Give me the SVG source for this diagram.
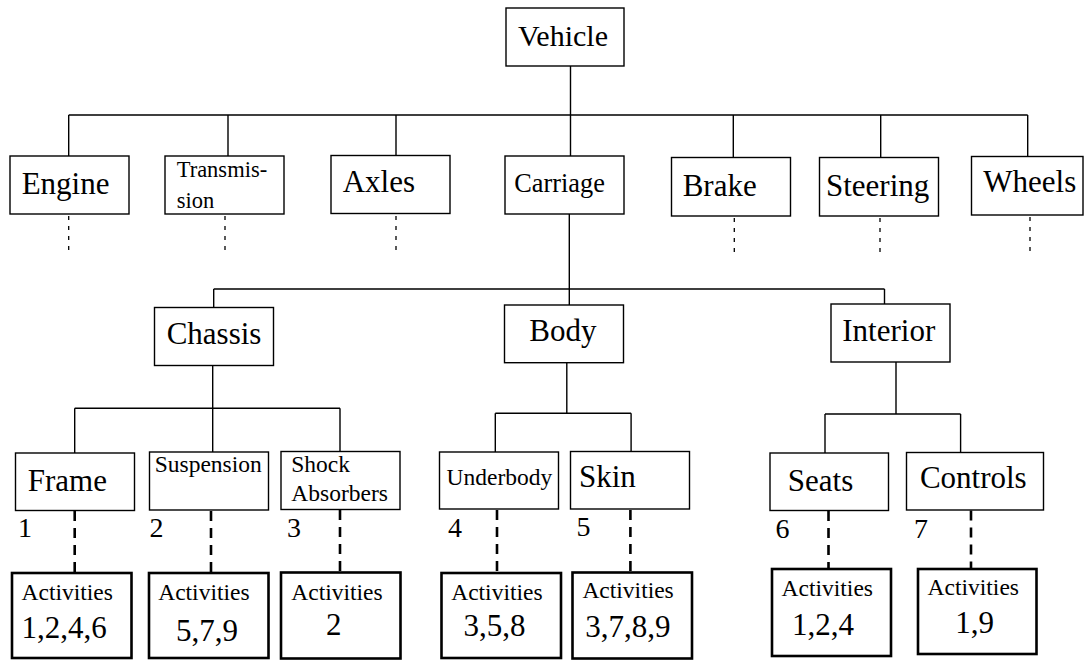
<svg xmlns="http://www.w3.org/2000/svg" width="1085" height="660" viewBox="0 0 1085 660">
<style>
.b{fill:#fff;stroke:#000;stroke-width:1.4}
.a{fill:#fff;stroke:#000;stroke-width:2.6}
text{font-family:'Liberation Serif','Times New Roman','DejaVu Serif',serif;fill:#000}
.L{font-size:31px}
.S{font-size:23.5px}
.N{font-size:28px}
.c{stroke:#000;stroke-width:1.4;fill:none}
.d{stroke:#000;stroke-width:1.3;stroke-dasharray:4 6;fill:none}
.D{stroke:#000;stroke-width:2.6;stroke-dasharray:10 7;fill:none}
</style>
<g id="connectors">
<path class="c" d="M570.5 66V156M68.7 115H1027.7M68.7 115V156M228 115V156M396 115V155.5M733.3 115V157.5M880.7 115V157.5M1027.7 115V156.5"/>
<path class="c" d="M569.3 214V305M213.7 289H884.5M213.7 289V307.5M884.5 289V304"/>
<path class="c" d="M212.7 365.5V452M74.7 408.3H340M74.7 408.3V453M340 408.3V451.5"/>
<path class="c" d="M566.8 362.7V413.3M495.3 413.3H631.1M495.3 413.3V452M631.1 413.3V451.5"/>
<path class="c" d="M896 362V414M825 414H960.6M825 414V453M960.6 414V452.5"/>
<path class="d" d="M68.7 216V254M225 216V256M396 216V255M734.3 218V257M880 218V257M1030 217V257"/>
<path class="D" d="M74.7 511V573M211 511V572.5M340 510V572.5M497 510V573M630.4 510V572.5M828.5 511V569M971 510.5V569"/>
</g>
<g font-family="Liberation Serif, serif">
<g id="vehicle"><rect class="b" x="506" y="8" width="118" height="58"/><text x="518" y="46" font-size="30">Vehicle</text></g>
<g id="engine"><rect class="b" x="10" y="156" width="119" height="58"/><text class="L" x="21.7" y="194">Engine</text></g>
<g id="transmission"><rect class="b" x="165" y="156" width="119" height="58"/><text x="176.7" y="177.3" font-size="22.5">Transmis-</text><text x="176.7" y="208" font-size="22.5">sion</text></g>
<g id="axles"><rect class="b" x="331" y="155.5" width="119" height="58"/><text class="L" x="342.7" y="192.3">Axles</text></g>
<g id="carriage"><rect class="b" x="505" y="156" width="119" height="58"/><text x="514.3" y="191.7" font-size="26.3">Carriage</text></g>
<g id="brake"><rect class="b" x="671.5" y="157.5" width="119" height="58.5"/><text class="L" x="682.7" y="195.7">Brake</text></g>
<g id="steering"><rect class="b" x="819.5" y="157.5" width="119" height="58.5"/><text class="L" x="826" y="195.7">Steering</text></g>
<g id="wheels"><rect class="b" x="971.5" y="156.5" width="111.5" height="58.5"/><text class="L" x="983.3" y="192.3">Wheels</text></g>
<g id="chassis"><rect class="b" x="154.5" y="307.5" width="119" height="58"/><text class="L" x="166.7" y="344">Chassis</text></g>
<g id="body"><rect class="b" x="504.5" y="305" width="119" height="57.7"/><text class="L" x="529.3" y="340.7">Body</text></g>
<g id="interior"><rect class="b" x="831" y="304" width="119" height="58"/><text class="L" x="842.3" y="341">Interior</text></g>
<g id="frame"><rect class="b" x="15.5" y="453" width="119" height="57.5"/><text class="L" x="27.8" y="490.7">Frame</text><text class="N" x="18" y="536.7">1</text></g>
<g id="suspension"><rect class="b" x="149.5" y="452" width="119" height="58"/><text class="S" x="154.7" y="472.3">Suspension</text><text class="N" x="149.5" y="536.7">2</text></g>
<g id="shock-absorbers"><rect class="b" x="281" y="451.5" width="119" height="58"/><text class="S" x="291.3" y="471.7">Shock</text><text class="S" x="291.3" y="500.7">Absorbers</text><text class="N" x="287" y="536.7">3</text></g>
<g id="underbody"><rect class="b" x="439.5" y="452" width="119" height="57"/><text class="S" x="446.6" y="485">Underbody</text><text class="N" x="448" y="536.7">4</text></g>
<g id="skin"><rect class="b" x="570.5" y="451.5" width="119" height="57.5"/><text class="L" x="578.9" y="487.3">Skin</text><text class="N" x="576.5" y="535.7">5</text></g>
<g id="seats"><rect class="b" x="770" y="453" width="118.5" height="57.5"/><text class="L" x="787.8" y="490.7">Seats</text><text class="N" x="775.5" y="538.3">6</text></g>
<g id="controls"><rect class="b" x="906.5" y="452.5" width="137" height="57.5"/><text class="L" x="919.9" y="488.3">Controls</text><text class="N" x="914" y="538.3">7</text></g>
<g id="act1"><rect class="a" x="12" y="573" width="119.5" height="85"/><text class="S" x="21.5" y="600">Activities</text><text class="L" x="21.5" y="638.3">1,2,4,6</text></g>
<g id="act2"><rect class="a" x="149" y="573" width="119.5" height="85"/><text class="S" x="158.2" y="600">Activities</text><text class="L" x="176" y="640.7">5,7,9</text></g>
<g id="act3"><rect class="a" x="281" y="572.5" width="119.5" height="86"/><text class="S" x="291.3" y="600">Activities</text><text class="L" x="326" y="635">2</text></g>
<g id="act4"><rect class="a" x="441.5" y="573" width="119.5" height="85"/><text class="S" x="451.2" y="600">Activities</text><text class="L" x="463.5" y="636">3,5,8</text></g>
<g id="act5"><rect class="a" x="572.5" y="572.5" width="119.5" height="86"/><text class="S" x="582.4" y="598.3">Activities</text><text class="L" x="585.3" y="636.7">3,7,8,9</text></g>
<g id="act6"><rect class="a" x="772" y="569" width="119" height="87"/><text class="S" x="781.6" y="596">Activities</text><text class="L" x="792" y="635">1,2,4</text></g>
<g id="act7"><rect class="a" x="918" y="569" width="118.5" height="85"/><text class="S" x="927.6" y="595">Activities</text><text class="L" x="955.3" y="633.3">1,9</text></g>
</g>
</svg>
